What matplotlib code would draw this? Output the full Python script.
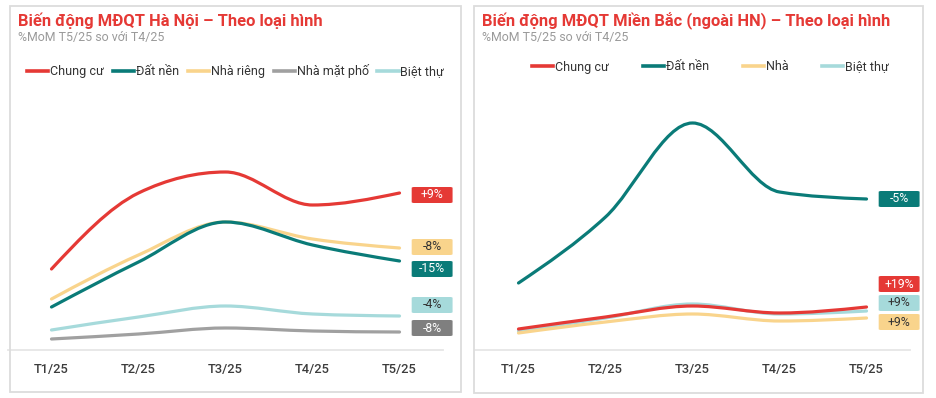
import numpy as np
import matplotlib
matplotlib.use('Agg')
import matplotlib.pyplot as plt
from matplotlib.path import Path
from matplotlib.patches import PathPatch, FancyBboxPatch, Rectangle
from matplotlib.lines import Line2D

plt.rcParams['font.family'] = ['Roboto', 'DejaVu Sans']

# --- data (relative index levels) ---
months = ['T1/25', 'T2/25', 'T3/25', 'T4/25', 'T5/25']

# Hà Nội
hn_names = ['Chung cư', 'Đất nền', 'Nhà riêng', 'Nhà mặt phố', 'Biệt thự']
hn_chung_cu = [81, 157, 178, 145, 157]
hn_dat_nen = [43, 88, 128, 105, 89]
hn_nha_rieng = [51, 95, 128, 111, 102]
hn_mat_pho = [11, 16, 22, 19, 18]
hn_biet_thu = [20, 33, 44, 36, 34]
hn_mom = ['+9%', '-15%', '-8%', '-8%', '-4%']

# Miền Bắc (ngoài HN)
mb_names = ['Chung cư', 'Đất nền', 'Nhà', 'Biệt thự']
mb_chung_cu = [21, 33, 44, 37, 43]
mb_dat_nen = [67, 133, 227, 158, 151]
mb_nha = [17, 28, 36, 29, 32]
mb_biet_thu = [19, 32, 46, 36, 39]
mb_mom = ['+19%', '-5%', '+9%', '+9%']

RED = '#E53935'
TEAL = '#0A7B78'
YELLOW = '#F9D48C'
GREY = '#A0A0A0'
LTEAL = '#A6DADB'

W, H = 936, 398
fig = plt.figure(figsize=(W / 100, H / 100), dpi=100)


def monotone_path(xs, ys):
    # monotone cubic (same idea as d3 curveMonotoneX)
    xs = np.asarray(xs, float)
    ys = np.asarray(ys, float)
    n = len(xs)
    h = np.diff(xs)
    s = np.diff(ys) / h
    t = np.zeros(n)
    for i in range(1, n - 1):
        p = (s[i - 1] * h[i] + s[i] * h[i - 1]) / (h[i - 1] + h[i])
        t[i] = (np.sign(s[i - 1]) + np.sign(s[i])) * min(abs(s[i - 1]), abs(s[i]), 0.5 * abs(p))
    t[0] = (3 * s[0] - t[1]) / 2
    t[-1] = (3 * s[-1] - t[-2]) / 2
    verts = [(xs[0], ys[0])]
    codes = [Path.MOVETO]
    for i in range(n - 1):
        dx = h[i] / 3
        verts += [(xs[i] + dx, ys[i] + dx * t[i]),
                  (xs[i + 1] - dx, ys[i + 1] - dx * t[i + 1]),
                  (xs[i + 1], ys[i + 1])]
        codes += [Path.CURVE4] * 3
    return Path(verts, codes)


def panel(left_px, box, title, names, series, colors, moms, badge_colors, badge_y, badge_fg,
          legend_x, legend_y, colspace):
    # card border
    x0, y0, x1, y1 = box
    fig.patches.append(Rectangle((x0 / W, 1 - y1 / H), (x1 - x0) / W, (y1 - y0) / H,
                                 transform=fig.transFigure, fill=False,
                                 edgecolor='#DCDCDC', linewidth=1.3))
    fig.text((x0 + 8) / W, 1 - 26 / H, title, color=RED, fontsize=11.9,
             fontweight='bold', va='baseline', ha='left')
    fig.text((x0 + 8) / W, 1 - 41 / H, '%MoM T5/25 so với T4/25', color='#9A9A9A',
             fontsize=8.9, va='baseline', ha='left')

    ax = fig.add_axes([left_px / W, (H - 350) / H, 435 / W, 260 / H])
    x = np.arange(len(months))
    for vals, c in reversed(list(zip(series, colors))):
        ax.add_patch(PathPatch(monotone_path(x, vals), fill=False, edgecolor=c,
                               linewidth=2.3, capstyle='round'))
    ax.set_xlim(-0.5, 4.5)
    ax.set_ylim(0, 260)
    ax.set_xticks(x)
    ax.set_xticklabels(months, fontsize=9.3, color='#3C3C3C', fontweight='medium')
    ax.tick_params(axis='x', length=0, pad=9)
    ax.set_yticks([])
    for sp in ['top', 'right', 'left']:
        ax.spines[sp].set_visible(False)
    ax.spines['bottom'].set_color('#E6E6E6')
    ax.spines['bottom'].set_linewidth(1.3)

    # end-of-line badges
    for m, bc, by, fg in zip(moms, badge_colors, badge_y, badge_fg):
        ax.add_patch(FancyBboxPatch((4.14, by - 8), 0.47, 16,
                                    boxstyle='round,pad=0,rounding_size=0.03',
                                    facecolor=bc, edgecolor='none', clip_on=False,
                                    mutation_aspect=30))
        ax.text(4.375, by, m, ha='center', va='center', fontsize=8.8, color=fg, clip_on=False)

    handles = [Line2D([], [], color=c, linewidth=2.6) for c in colors]
    ax.legend(handles, names, ncol=len(names), loc='center left',
              bbox_to_anchor=(legend_x / W, 1 - legend_y / H), bbox_transform=fig.transFigure,
              frameon=False, borderpad=0, borderaxespad=0, handlelength=1.7,
              handletextpad=0.15, columnspacing=colspace, fontsize=9,
              labelcolor='#333333')
    return ax


hn_series = [hn_chung_cu, hn_dat_nen, hn_nha_rieng, hn_mat_pho, hn_biet_thu]
hn_colors = [RED, TEAL, YELLOW, GREY, LTEAL]
hn_badge_colors = [RED, TEAL, YELLOW, '#7F7F7F', LTEAL]
panel(8, (10, 6, 461, 392), 'Biến động MĐQT Hà Nội – Theo loại hình',
      hn_names, hn_series, hn_colors, hn_mom, hn_badge_colors,
      [155, 81, 103, 22, 45], ['white', 'white', '#333333', 'white', '#333333'],
      27, 71, 0.7)

mb_series = [mb_chung_cu, mb_dat_nen, mb_nha, mb_biet_thu]
mb_colors = [RED, TEAL, YELLOW, LTEAL]
panel(475, (474, 6, 923, 393), 'Biến động MĐQT Miền Bắc (ngoài HN) – Theo loại hình',
      mb_names, mb_series, mb_colors, mb_mom, mb_colors,
      [66, 151, 28, 47], ['white', 'white', '#333333', '#333333'],
      532, 67, 2.7)

fig.savefig('out.png', dpi=100)
